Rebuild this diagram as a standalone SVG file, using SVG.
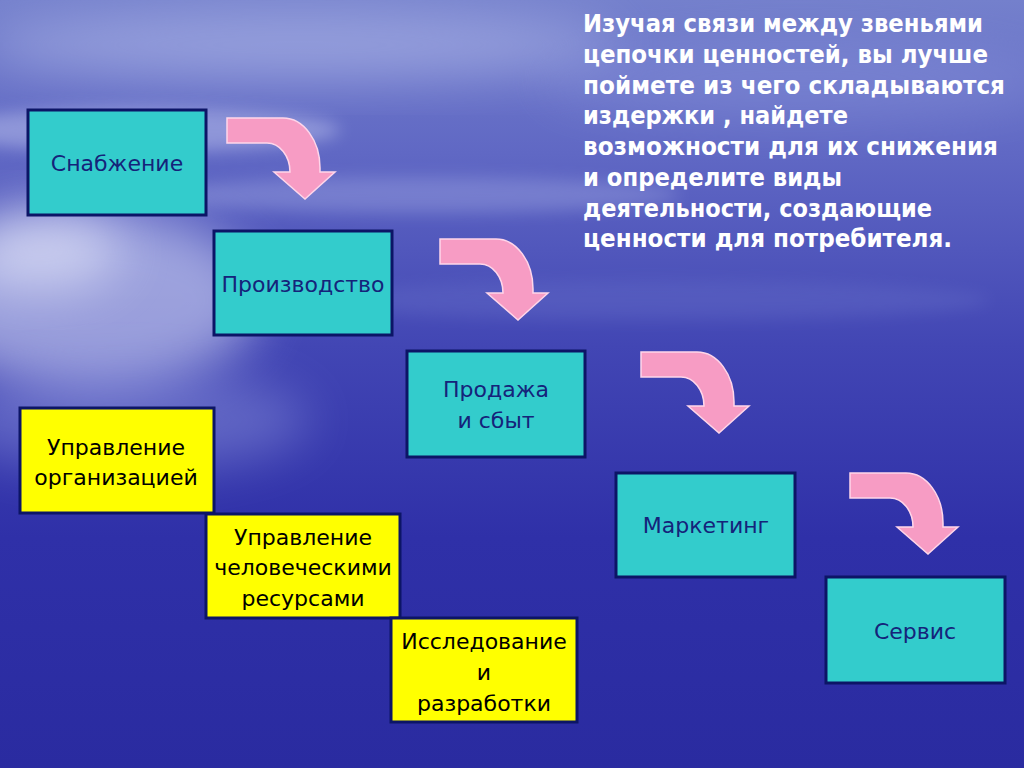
<svg xmlns="http://www.w3.org/2000/svg" width="1024" height="768" viewBox="0 0 1024 768">
<style>
.cy{fill:#33cccc;stroke:#0c1566;stroke-width:3}
.ye{fill:#ffff00;stroke:#0c1566;stroke-width:3}
.lb{font-family:"DejaVu Sans","Liberation Sans",sans-serif;font-size:22px;text-anchor:middle}
.nv{fill:#15237a}
.bk{fill:#000000}
.hd{font-family:"DejaVu Sans","Liberation Sans",sans-serif;font-size:24px;font-weight:bold;fill:#ffffff}
.arr{fill:#f79cc4;stroke:#ffd6ea;stroke-width:1.5}
</style>
<defs>
<linearGradient id="bg" x1="0" y1="0" x2="0" y2="1">
<stop offset="0" stop-color="#7480cc"/>
<stop offset="0.2" stop-color="#6068c4"/>
<stop offset="0.45" stop-color="#4246b4"/>
<stop offset="0.7" stop-color="#2f30a8"/>
<stop offset="1" stop-color="#2a2ba0"/>
</linearGradient>
<filter id="bl" x="-50%" y="-50%" width="200%" height="200%"><feGaussianBlur stdDeviation="25"/></filter>
<filter id="bl2" x="-50%" y="-50%" width="200%" height="200%"><feGaussianBlur stdDeviation="8"/></filter>
<path id="arw" class="arr" d="M0,0 H56 A37,50 0 0 1 93,50 V54 H108 L78,81 L47,54 H63 A23,29 0 0 0 40,25 H0 Z"/>
</defs>
<g id="background">
<rect width="1024" height="768" fill="url(#bg)"/>
<ellipse cx="90" cy="300" rx="170" ry="90" fill="#dfe4fb" opacity="0.55" filter="url(#bl)"/>
<ellipse cx="40" cy="250" rx="80" ry="40" fill="#f4f6ff" opacity="0.5" filter="url(#bl)"/>
<ellipse cx="300" cy="45" rx="320" ry="35" fill="#c4ccf2" opacity="0.45" filter="url(#bl)"/>
<ellipse cx="140" cy="130" rx="200" ry="22" fill="#d0d6f6" opacity="0.4" filter="url(#bl2)"/>
<ellipse cx="420" cy="195" rx="260" ry="18" fill="#b8c0ee" opacity="0.3" filter="url(#bl2)"/>
<ellipse cx="800" cy="80" rx="260" ry="40" fill="#8e98de" opacity="0.35" filter="url(#bl)"/>
<ellipse cx="130" cy="420" rx="180" ry="50" fill="#9aa2e4" opacity="0.4" filter="url(#bl)"/>
<ellipse cx="650" cy="300" rx="340" ry="20" fill="#6d76cc" opacity="0.3" filter="url(#bl2)"/>
</g>
<g id="connectors">
<use href="#arw" transform="translate(227,118)"/>
<use href="#arw" transform="translate(440,239)"/>
<use href="#arw" transform="translate(641,352)"/>
<use href="#arw" transform="translate(850,473)"/>
</g>
<g id="n-snab"><rect class="cy" x="28" y="110" width="178" height="105"/><text class="lb nv" x="117" y="171">Снабжение</text></g>
<g id="n-proizv"><rect class="cy" x="214" y="231" width="178" height="104"/><text class="lb nv" x="303" y="292">Производство</text></g>
<g id="n-prodazha"><rect class="cy" x="407" y="351" width="178" height="106"/><text class="lb nv" x="496" y="397">Продажа</text><text class="lb nv" x="496" y="428">и сбыт</text></g>
<g id="n-marketing"><rect class="cy" x="616" y="473" width="179" height="104"/><text class="lb nv" x="706" y="533">Маркетинг</text></g>
<g id="n-servis"><rect class="cy" x="826" y="577" width="179" height="106"/><text class="lb nv" x="915" y="639">Сервис</text></g>
<g id="n-uprorg"><rect class="ye" x="20" y="408" width="194" height="105"/><text class="lb bk" x="116" y="455">Управление</text><text class="lb bk" x="116" y="485">организацией</text></g>
<g id="n-uprhr"><rect class="ye" x="206" y="514" width="194" height="104"/><text class="lb bk" x="303" y="545">Управление</text><text class="lb bk" x="303" y="575">человеческими</text><text class="lb bk" x="303" y="606">ресурсами</text></g>
<g id="n-issl"><rect class="ye" x="391" y="618" width="186" height="104"/><text class="lb bk" x="484" y="649">Исследование</text><text class="lb bk" x="484" y="680">и</text><text class="lb bk" x="484" y="711">разработки</text></g>
<g id="caption">
<text class="hd" x="583" y="32" textLength="400" lengthAdjust="spacingAndGlyphs">Изучая связи между звеньями</text>
<text class="hd" x="583" y="63" textLength="405" lengthAdjust="spacingAndGlyphs">цепочки ценностей, вы лучше</text>
<text class="hd" x="583" y="94" textLength="422" lengthAdjust="spacingAndGlyphs">поймете из чего складываются</text>
<text class="hd" x="583" y="124" textLength="265" lengthAdjust="spacingAndGlyphs">издержки , найдете</text>
<text class="hd" x="583" y="155" textLength="415" lengthAdjust="spacingAndGlyphs">возможности для их снижения</text>
<text class="hd" x="583" y="186" textLength="259" lengthAdjust="spacingAndGlyphs">и определите виды</text>
<text class="hd" x="583" y="217" textLength="349" lengthAdjust="spacingAndGlyphs">деятельности, создающие</text>
<text class="hd" x="583" y="247" textLength="369" lengthAdjust="spacingAndGlyphs">ценности для потребителя.</text>
</g>
</svg>
